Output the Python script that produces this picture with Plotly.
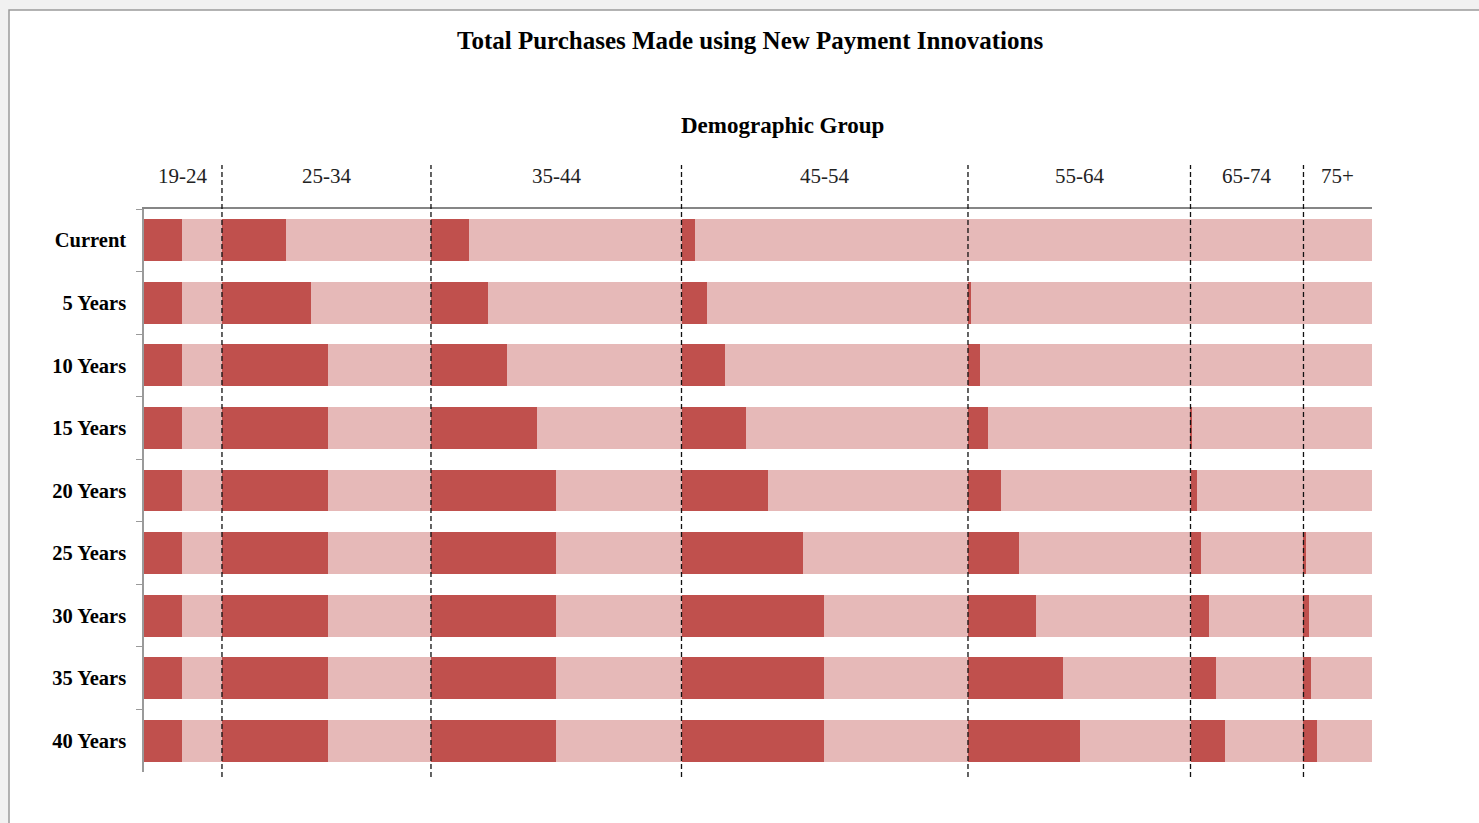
import plotly.graph_objects as go

# ---------------- data ----------------
periods = ["Current", "5 Years", "10 Years", "15 Years", "20 Years",
           "25 Years", "30 Years", "35 Years", "40 Years"]
groups = ["19-24", "25-34", "35-44", "45-54", "55-64", "65-74", "75+"]

# share of total purchases made by each demographic group (%)
group_share = [6.35, 17.02, 20.40, 23.33, 18.12, 9.20, 5.58]

# share of total purchases made using new payment innovations (%), per group
adopt_19_24 = [3.09, 3.09, 3.09, 3.09, 3.09, 3.09, 3.09, 3.09, 3.09]
adopt_25_34 = [5.21, 7.25, 8.63, 8.63, 8.63, 8.63, 8.63, 8.63, 8.63]
adopt_35_44 = [3.09, 4.64, 6.19, 8.63, 10.18, 10.18, 10.18, 10.18, 10.18]
adopt_45_54 = [1.14, 2.08, 3.54, 5.25, 7.04, 9.89, 11.60, 11.60, 11.60]
adopt_55_64 = [0.00, 0.24, 0.98, 1.59, 2.69, 4.15, 5.50, 7.74, 9.12]
adopt_65_74 = [0.00, 0.00, 0.00, 0.16, 0.53, 0.86, 1.51, 2.08, 2.81]
adopt_75p = [0.00, 0.00, 0.00, 0.00, 0.00, 0.20, 0.45, 0.61, 1.14]

adoption = [adopt_19_24, adopt_25_34, adopt_35_44, adopt_45_54,
            adopt_55_64, adopt_65_74, adopt_75p]

DARK = "#C0504D"
LIGHT = "#E6B9B8"
FONT = "Liberation Serif"

fig = go.Figure()
for g, share, vals in zip(groups, group_share, adoption):
    fig.add_trace(go.Bar(y=periods, x=vals, orientation="h", name=g + " new",
                         marker=dict(color=DARK, line=dict(width=0)),
                         showlegend=False))
    fig.add_trace(go.Bar(y=periods, x=[share - v for v in vals], orientation="h",
                         name=g + " other",
                         marker=dict(color=LIGHT, line=dict(width=0)),
                         showlegend=False))

W, H = 1479, 823
L, R, T, B = 144, 107, 209, 51
pw, ph = W - L - R, H - T - B


def px_to_paper_x(px):
    return (px - L) / pw


def px_to_paper_y(py):
    return 1 - (py - T) / ph


shapes = []
# chart frame (white area with grey border at left and top)
shapes.append(dict(type="rect", xref="paper", yref="paper",
                   x0=px_to_paper_x(9), x1=px_to_paper_x(W + 5),
                   y0=px_to_paper_y(H + 5), y1=px_to_paper_y(10),
                   fillcolor="white", line=dict(color="#9a9a9a", width=1.5),
                   layer="below"))

# dashed separators between groups
bounds = []
acc = 0
for s in group_share[:-1]:
    acc += s
    bounds.append(acc)
for bx in bounds:
    shapes.append(dict(type="line", xref="x", yref="paper", x0=bx, x1=bx,
                       y0=px_to_paper_y(777), y1=px_to_paper_y(165),
                       line=dict(color="#111111", width=1.3, dash="5px,3px"),
                       layer="above"))

annotations = []
acc = 0
for g, s in zip(groups, group_share):
    annotations.append(dict(x=acc + s / 2, xref="x", y=px_to_paper_y(176), yref="paper",
                            text=g, showarrow=False,
                            font=dict(family=FONT, size=21, color="#222222"),
                            xanchor="center", yanchor="middle"))
    acc += s

annotations.append(dict(x=px_to_paper_x(782), xref="paper", y=px_to_paper_y(125), yref="paper",
                        text="<b>Demographic Group</b>", showarrow=False,
                        font=dict(family=FONT, size=23, color="#000000"),
                        xanchor="center", yanchor="middle"))
annotations.append(dict(x=px_to_paper_x(750), xref="paper", y=px_to_paper_y(40), yref="paper",
                        text="<b>Total Purchases Made using New Payment Innovations</b>",
                        showarrow=False,
                        font=dict(family=FONT, size=25, color="#000000"),
                        xanchor="center", yanchor="middle"))

fig.update_layout(
    barmode="stack",
    bargap=0.33,
    width=W, height=H,
    margin=dict(l=L, r=R, t=T, b=B, pad=0),
    paper_bgcolor="#f1f1f1",
    plot_bgcolor="rgba(0,0,0,0)",
    shapes=shapes,
    annotations=annotations,
    xaxis=dict(range=[0, sum(group_share)], showticklabels=False, showgrid=False,
               zeroline=False, side="top", showline=True, linecolor="#868686",
               linewidth=1.5, ticks=""),
    yaxis=dict(categoryorder="array", categoryarray=periods, autorange="reversed",
               showgrid=False, zeroline=False, showline=True, linecolor="#9a9a9a",
               linewidth=1.5, ticks="outside", ticklen=6, tickwidth=1.2,
               tickcolor="#9a9a9a", tickson="boundaries",
               tickfont=dict(family=FONT, size=20.5, color="#000000"),
               ticklabelstandoff=12),
    font=dict(family=FONT),
)
fig.update_yaxes(tickprefix="<b>", ticksuffix="</b>")

fig.write_html("out.html", config={"displayModeBar": False},
               post_script="document.body.style.margin='0';")
